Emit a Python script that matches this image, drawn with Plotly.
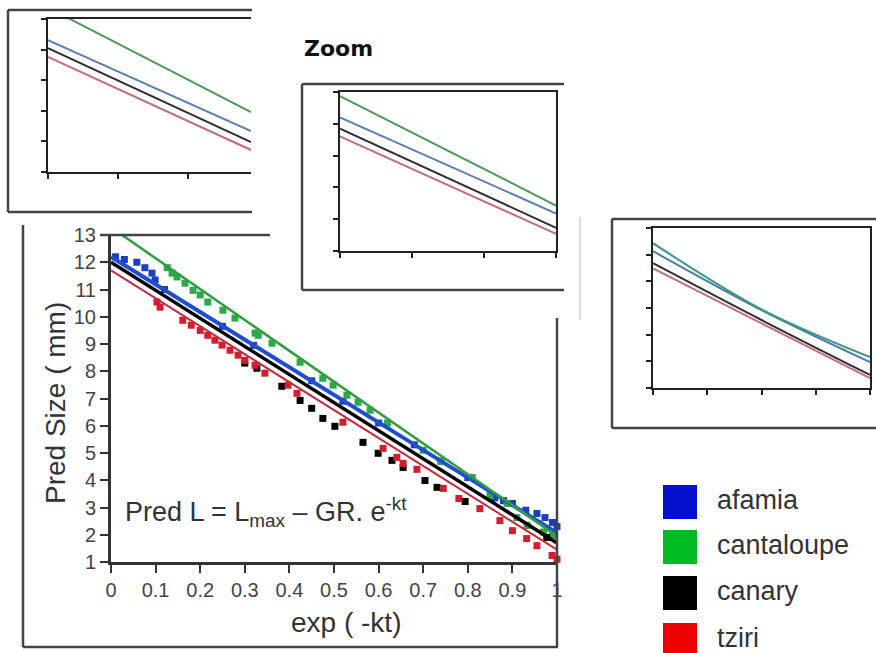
import plotly.graph_objects as go

W, H = 876, 653

# ---------------- main chart data ----------------
series_names = ["afamia", "cantaloupe", "canary", "tziri"]
legend_colors = ["#0010cc", "#00bb22", "#000000", "#ee0000"]

# fitted lines (x = exp(-kt), y = predicted size)
line_x = [0.0, 1.0]
afamia_line = [12.2, 2.07]
cantaloupe_line = [13.28, 1.95]
canary_line = [12.0, 1.7]
tziri_line = [11.7, 1.45]

# observed points
afamia_x = [0.01, 0.03, 0.058, 0.076, 0.092, 0.099, 0.12, 0.25, 0.32, 0.45, 0.52, 0.6, 0.68, 0.74, 0.8,
            0.86, 0.88, 0.90, 0.93, 0.955, 0.973, 0.99, 1.0]
afamia_y = [12.2, 12.1, 12.0, 11.8, 11.6, 11.35, 11.0, 9.65, 8.95, 7.65, 6.9, 6.1, 5.3, 4.7, 4.1,
            3.35, 3.25, 3.15, 2.9, 2.78, 2.63, 2.45, 2.3]

cantaloupe_x = [0.126, 0.137, 0.148, 0.166, 0.184, 0.2, 0.217, 0.251, 0.278, 0.323, 0.33, 0.361, 0.424,
                0.475, 0.498, 0.529, 0.554, 0.581, 0.62, 0.7, 0.74, 0.81, 0.85, 0.888, 0.91, 0.933,
                0.97, 0.99]
cantaloupe_y = [11.8, 11.6, 11.46, 11.23, 10.97, 10.8, 10.54, 10.24, 9.95, 9.4, 9.32, 9.03, 8.33,
                7.74, 7.49, 7.12, 6.86, 6.57, 6.1, 5.1, 4.7, 4.1, 3.44, 3.15, 2.63, 2.34,
                2.1, 1.97]

canary_x = [0.3, 0.327, 0.383, 0.424, 0.45, 0.475, 0.502, 0.565, 0.599, 0.63, 0.655, 0.704, 0.731,
            0.794, 0.977]
canary_y = [8.3, 8.11, 7.45, 6.93, 6.64, 6.27, 5.98, 5.39, 4.99, 4.73, 4.47, 3.99, 3.74,
            3.22, 1.9]

tziri_x = [0.103, 0.11, 0.161, 0.18, 0.2, 0.217, 0.233, 0.249, 0.267, 0.285, 0.3, 0.323, 0.345,
           0.397, 0.417, 0.52, 0.61, 0.641, 0.655, 0.686, 0.745, 0.78, 0.827, 0.872, 0.9, 0.932,
           0.955, 0.989, 1.0]
tziri_y = [10.54, 10.35, 9.87, 9.69, 9.5, 9.32, 9.14, 8.96, 8.77, 8.59, 8.4, 8.22, 7.93,
           7.49, 7.19, 6.13, 5.17, 4.84, 4.62, 4.4, 3.7, 3.33, 2.96, 2.52, 2.15, 1.86,
           1.6, 1.24, 1.1]

y_ticks = list(range(1, 14))
x_ticks = [0, 0.1, 0.2, 0.3, 0.4, 0.5, 0.6, 0.7, 0.8, 0.9, 1]
x_tick_labels = ["0", "0.1", "0.2", "0.3", "0.4", "0.5", "0.6", "0.7", "0.8", "0.9", "1"]

# ---------------- zoom inset data ----------------
zoom1_x = [0.0, 2.9]
zoom1_afamia = [4.31, 1.34]
zoom1_cantaloupe = [5.37, 1.96]
zoom1_canary = [4.05, 0.98]
zoom1_tziri = [3.76, 0.72]

zoom2_x = [0.0, 3.0]
zoom2_afamia = [4.2, 1.18]
zoom2_cantaloupe = [4.87, 1.43]
zoom2_canary = [3.85, 0.73]
zoom2_tziri = [3.6, 0.54]

zoom3_x = [0.0, 2.0, 4.0]
zoom3_afamia = [5.13, 2.92, 0.97]
zoom3_cantaloupe = [5.43, 2.95, 1.16]
zoom3_canary = [4.68, 2.55, 0.49]
zoom3_tziri = [4.49, 2.42, 0.37]


def px(xp):
    return xp / W


def py(yp):
    return 1 - yp / H


fig = go.Figure()

main_line_colors = ["#1f4fd0", "#2e9e3e", "#000000", "#c8283c"]
main_line_widths = [4, 2.5, 3.5, 2]
main_lines = [afamia_line, cantaloupe_line, canary_line, tziri_line]
marker_colors = ["#1a3fc0", "#2ea84a", "#000000", "#d02030"]
pts = [(afamia_x, afamia_y), (cantaloupe_x, cantaloupe_y), (canary_x, canary_y), (tziri_x, tziri_y)]

for name, (xs, ys), mc in zip(series_names, pts, marker_colors):
    fig.add_trace(go.Scatter(x=xs, y=ys, mode="markers", name=name, showlegend=False,
                             marker=dict(symbol="square", size=7, color=mc),
                             xaxis="x", yaxis="y", cliponaxis=False))

for name, ys, c, w in zip(series_names, main_lines, main_line_colors, main_line_widths):
    fig.add_trace(go.Scatter(x=line_x, y=ys, mode="lines", name=name + " fit", showlegend=False,
                             line=dict(color=c, width=w), xaxis="x", yaxis="y"))

inset_colors = ["#5b7fb5", "#4f9a5a", "#303030", "#c0707a"]
inset3_colors = ["#4a7ab0", "#3a9a80", "#303030", "#c0707a"]
for ax, xs, sets, cols in [
    ("2", zoom1_x, [zoom1_afamia, zoom1_cantaloupe, zoom1_canary, zoom1_tziri], inset_colors),
    ("3", zoom2_x, [zoom2_afamia, zoom2_cantaloupe, zoom2_canary, zoom2_tziri], inset_colors),
    ("4", zoom3_x, [zoom3_afamia, zoom3_cantaloupe, zoom3_canary, zoom3_tziri], inset3_colors),
]:
    for name, ys, c in zip(series_names, sets, cols):
        fig.add_trace(go.Scatter(x=xs, y=ys, mode="lines", name=name, showlegend=False,
                                 line=dict(color=c, width=2, shape="spline"),
                                 xaxis="x" + ax, yaxis="y" + ax))

axis_font = dict(family="Liberation Sans, Arial", size=20, color="#444")

fig.update_layout(
    width=W, height=H, margin=dict(l=0, r=0, t=0, b=0, pad=0), autosize=False,
    paper_bgcolor="white", plot_bgcolor="rgba(0,0,0,0)", showlegend=False,
    xaxis=dict(domain=[px(111), px(557)], range=[0, 1], tickvals=x_ticks, ticktext=x_tick_labels,
               showgrid=False, zeroline=False, showline=True, linecolor="#333", linewidth=3,
               ticks="outside", ticklen=8, tickwidth=2, tickcolor="#333", tickfont=axis_font,
               anchor="y", fixedrange=True, automargin=False),
    yaxis=dict(domain=[py(562), py(235)], range=[1, 13], tickvals=y_ticks,
               showgrid=False, zeroline=False, showline=True, linecolor="#333", linewidth=3,
               ticks="outside", ticklen=8, tickwidth=2, tickcolor="#333", tickfont=axis_font,
               anchor="x", fixedrange=True, automargin=False),
)

inset_axis = dict(showgrid=False, zeroline=False, showline=True, linecolor="#222", linewidth=2,
                  ticks="outside", ticklen=5, tickwidth=1.5, tickcolor="#222",
                  showticklabels=False, fixedrange=True, dtick=1, automargin=False)

fig.update_layout(
    xaxis2=dict(inset_axis, domain=[px(48), px(251)], range=[0, 2.9], anchor="y2", mirror=True),
    yaxis2=dict(inset_axis, domain=[py(172), py(19)], range=[0, 5], anchor="x2", mirror=False),
    xaxis3=dict(inset_axis, domain=[px(340), px(556)], range=[0, 3], anchor="y3", mirror=True),
    yaxis3=dict(inset_axis, domain=[py(251), py(92)], range=[0, 5], anchor="x3", mirror=True),
    xaxis4=dict(inset_axis, domain=[px(653), px(870)], range=[0, 4], anchor="y4", mirror=True),
    yaxis4=dict(inset_axis, domain=[py(388), py(228)], range=[0, 6], anchor="x4", mirror=True),
)

frame = dict(color="#444", width=2.5)
segments = [
    # main frame
    (23, 225, 23, 647), (23, 647, 558, 647), (557, 318, 557, 647), (100, 235, 270, 235),
    # top-left zoom frame
    (8, 10, 252, 10), (8, 10, 8, 212), (8, 212, 252, 212),
    # center zoom frame
    (302, 84, 302, 290), (302, 84, 564, 84), (302, 290, 564, 290),
    # right zoom frame
    (612, 219, 612, 428), (612, 219, 876, 219), (612, 428, 876, 428),
]
shapes = [dict(type="line", xref="paper", yref="paper", x0=px(a), y0=py(b), x1=px(c), y1=py(d),
               line=frame) for a, b, c, d in segments]
shapes.append(dict(type="line", xref="paper", yref="paper", x0=px(580), y0=py(217), x1=px(580),
                   y1=py(320), line=dict(color="#d0d0d0", width=1.5)))

# legend swatches
sw_tops = [485, 530, 576, 623]
for top, col in zip(sw_tops, legend_colors):
    shapes.append(dict(type="rect", xref="paper", yref="paper", x0=px(663), x1=px(697),
                       y0=py(top + 34), y1=py(top), fillcolor=col, line=dict(width=0)))
fig.update_layout(shapes=shapes)

txt = dict(family="Liberation Sans, Arial", color="#333")
annotations = [
    dict(text="Pred Size ( mm)", x=px(55), y=py(403), textangle=-90, font=dict(txt, size=28)),
    dict(text="exp ( -kt)", x=px(346), y=py(622), font=dict(txt, size=28)),
    dict(text="Pred L = L<sub>max</sub> – GR. e<sup>-kt</sup>", x=px(123), y=py(512),
         xanchor="left", font=dict(txt, size=27)),
    dict(text="<b>Zoom</b>", x=px(338), y=py(48), font=dict(family="DejaVu Sans", size=22, color="#111")),
]
for top, name in zip(sw_tops, series_names):
    annotations.append(dict(text=name, x=px(715), y=py(top + 15), xanchor="left",
                            font=dict(txt, size=27)))
for a in annotations:
    a.update(xref="paper", yref="paper", showarrow=False)
    if "xanchor" not in a:
        a["xanchor"] = "center"
    a["yanchor"] = "middle"
fig.update_layout(annotations=annotations)

fig.write_html("out.html", config={"displayModeBar": False},
               post_script="document.body.style.margin='0';document.body.style.overflow='hidden';")
